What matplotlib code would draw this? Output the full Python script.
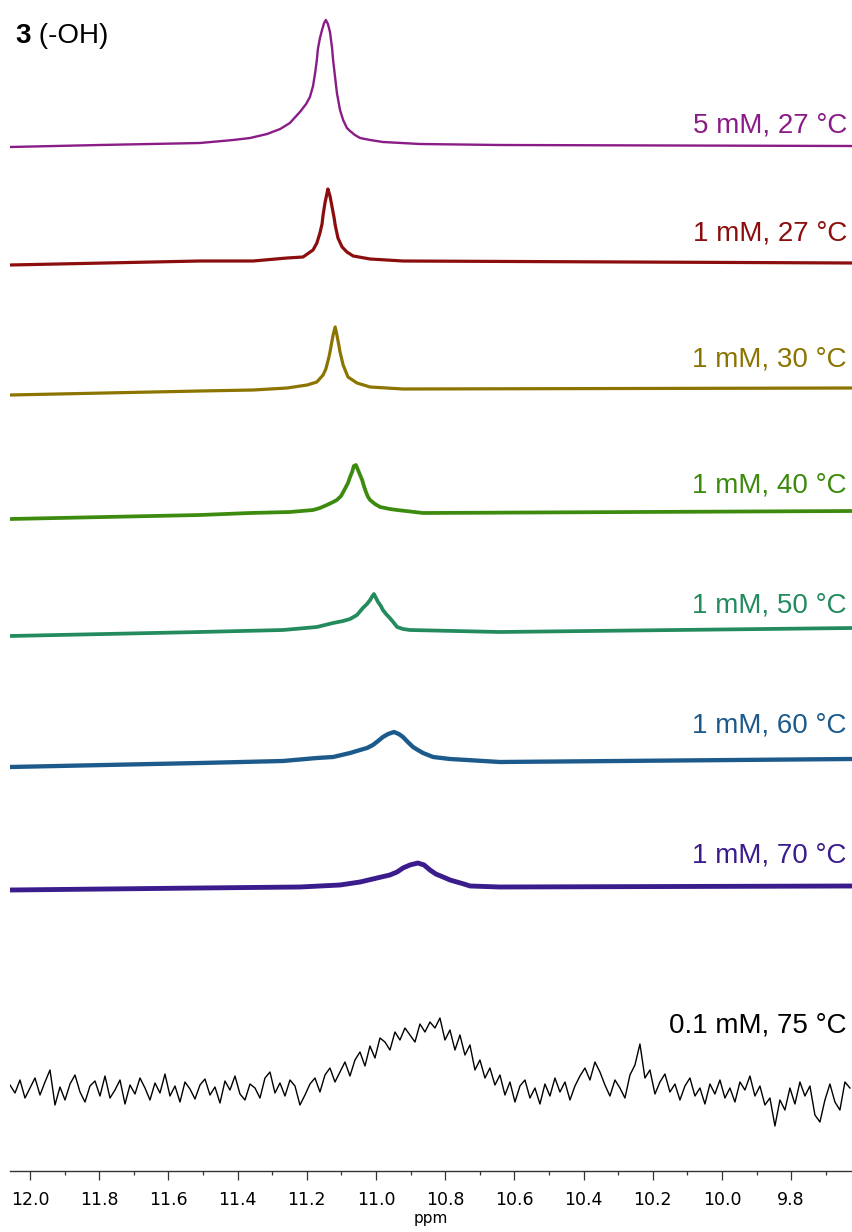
import numpy as np
import matplotlib.pyplot as plt
from matplotlib.transforms import blended_transform_factory

# stacked 1H NMR traces of the -OH signal (intensity in arbitrary units above each trace baseline)
labels = ['5 mM, 27 °C', '1 mM, 27 °C', '1 mM, 30 °C', '1 mM, 40 °C',
          '1 mM, 50 °C', '1 mM, 60 °C', '1 mM, 70 °C', '0.1 mM, 75 °C']
colors = ['#8A1C87', '#8B0D0D', '#8C7400', '#3D8B0E', '#238B5E', '#1C5A8C', '#3B1C8C', '#000000']
offsets = [1025, 909, 780, 657, 539, 408, 283, 81]

ppm_5mM_27 = [12.058, 11.798, 11.653, 11.509, 11.413, 11.364, 11.315, 11.277, 11.249, 11.220,
              11.202, 11.191, 11.182, 11.176, 11.171, 11.168, 11.162, 11.156, 11.150, 11.145,
              11.139, 11.133, 11.127, 11.124, 11.118, 11.113, 11.104, 11.095, 11.084, 11.075,
              11.061, 11.046, 11.017, 10.980, 10.873, 10.642, 9.624]
int_5mM_27 = [-1, 1, 2, 3, 6, 8, 12, 17, 23, 34, 42, 49, 60, 73, 86, 97, 108, 116, 123, 126,
              122, 114, 98, 86, 68, 53, 36, 26, 18, 15, 11, 8, 6, 4, 2, 1, 0]

ppm_1mM_27 = [12.058, 11.509, 11.355, 11.257, 11.211, 11.182, 11.171, 11.162, 11.156, 11.153,
              11.147, 11.142, 11.139, 11.133, 11.127, 11.121, 11.118, 11.110, 11.098, 11.084,
              11.066, 11.017, 10.922, 9.624]
int_1mM_27 = [-3, 1, 1, 4, 5, 12, 19, 29, 38, 47, 60, 68, 73, 66, 55, 44, 37, 24, 15, 10,
              6, 3, 1, -1]

ppm_1mM_30 = [12.058, 11.509, 11.355, 11.257, 11.199, 11.171, 11.153, 11.145, 11.142, 11.136,
              11.133, 11.124, 11.118, 11.113, 11.107, 11.104, 11.095, 11.081, 11.055, 11.017,
              10.922, 9.624]
int_1mM_30 = [-4, 0, 1, 3, 6, 9, 16, 22, 26, 34, 39, 56, 64, 56, 45, 39, 26, 14, 8, 4, 2, 3]

ppm_1mM_40 = [12.058, 11.509, 11.364, 11.249, 11.182, 11.162, 11.142, 11.124, 11.113, 11.101,
              11.090, 11.081, 11.075, 11.069, 11.064, 11.058, 11.052, 11.046, 11.040, 11.035,
              11.029, 11.023, 11.017, 11.003, 10.988, 10.960, 10.939, 10.864, 9.624]
int_1mM_40 = [-5, -1, 1, 2, 4, 6, 9, 12, 14, 18, 25, 31, 37, 42, 48, 49, 44, 39, 34, 28,
              22, 17, 14, 10, 7, 5, 4, 1, 3]

ppm_1mM_50 = [12.058, 11.509, 11.269, 11.171, 11.124, 11.095, 11.075, 11.055, 11.038, 11.026,
              11.017, 11.012, 11.006, 11.000, 10.994, 10.986, 10.980, 10.971, 10.960, 10.948,
              10.939, 10.922, 10.902, 10.642, 9.624]
int_1mM_50 = [-4, 0, 2, 5, 9, 11, 13, 17, 24, 28, 32, 35, 38, 34, 30, 26, 22, 18, 14, 9,
              5, 3, 2, 0, 4]

ppm_1mM_60 = [12.058, 11.509, 11.269, 11.171, 11.124, 11.075, 11.046, 11.026, 11.009, 10.994,
              10.980, 10.965, 10.948, 10.934, 10.922, 10.908, 10.893, 10.879, 10.864, 10.835,
              10.786, 10.737, 10.642, 9.624]
int_1mM_60 = [-4, 0, 2, 5, 6, 10, 13, 15, 18, 22, 26, 29, 31, 29, 26, 21, 16, 13, 10, 6,
              4, 3, 1, 4]

ppm_1mM_70 = [12.058, 11.509, 11.220, 11.104, 11.046, 10.997, 10.960, 10.939, 10.922, 10.902,
              10.879, 10.861, 10.844, 10.827, 10.806, 10.786, 10.766, 10.746, 10.728, 10.642,
              9.624]
int_1mM_70 = [-2, 0, 1, 3, 6, 10, 13, 16, 20, 23, 25, 23, 18, 14, 11, 8, 6, 4, 2, 1, 2]

# 0.1 mM, 75 °C: noisy trace read every ~0.0145 ppm
int_01mM_75 = [5, -3, 10, -8, 2, 12, -5, 8, 20, -15, 3, -10, 6, 15, -2, -12, 4, 9, -6,
               14, -8, 0, 10, -14, 5, -4, 12, 2, -10, 7, -3, 16, -6, 4, -12, 8, 1, -9, 5,
               11, -5, 3, -13, 9, 0, 14, -4, -10, 6, 2, -8, 12, 18, -3, 7, -6, 10, 4, -15,
               -5, 6, 12, -2, 15, 22, 8, 18, 28, 14, 30, 38, 24, 44, 32, 52, 48, 40, 58, 50,
               62, 55, 48, 66, 58, 68, 62, 72, 50, 60, 40, 55, 35, 45, 20, 30, 12, 22, 5, 15,
               -5, 8, -12, 4, 10, -8, 2, -14, 6, -6, 12, -2, 8, -10, 4, 14, 22, 10, 28, 18,
               5, -6, 10, 2, -8, 15, 25, 46, 12, 20, -4, 8, 16, -2, 6, -10, 4, 12, -6, 2,
               -14, 6, -4, 10, -8, 2, -12, 8, 0, 14, -6, 4, -15, -8, -36, -10, -20, 2, -14, 8,
               -6, 4, -25, -32, -10, 6, -12, -20, 8, 2]
ppm_01mM_75 = np.linspace(12.058, 9.630, len(int_01mM_75))

traces = [(ppm_5mM_27, int_5mM_27), (ppm_1mM_27, int_1mM_27), (ppm_1mM_30, int_1mM_30),
          (ppm_1mM_40, int_1mM_40), (ppm_1mM_50, int_1mM_50), (ppm_1mM_60, int_1mM_60),
          (ppm_1mM_70, int_1mM_70), (ppm_01mM_75, int_01mM_75)]
widths = [1.7, 2.3, 2.3, 2.7, 2.7, 3.1, 3.5, 1.0]
label_y = [1039, 931, 804, 678, 559, 438, 309, 139]

fig = plt.figure(figsize=(8.52, 12.32), dpi=100)
ax = fig.add_axes([10 / 852, 61 / 1232, 842 / 852, 1171 / 1232])

for (x, y), off, c, lw in zip(traces, offsets, colors, widths):
    ax.plot(x, np.array(y) + off, color=c, lw=lw, solid_joinstyle='round')

trans = blended_transform_factory(ax.transAxes, ax.transData)
for lab, c, ly in zip(labels, colors, label_y):
    ax.text(0.994, ly, lab, color=c, fontsize=20, ha='right', va='baseline',
            family='Liberation Sans', transform=trans)

t = ax.text(0.006, 1128, '3', fontsize=20, fontweight='bold', family='Liberation Sans',
            va='baseline', transform=trans)
ax.annotate(' (-OH)', xy=(1, 0), xycoords=t, fontsize=20, family='Liberation Sans',
            va='bottom')

ax.set_xlim(12.058, 9.624)
ax.set_ylim(0, 1171)
ax.set_xticks(np.arange(9.8, 12.01, 0.2))
ax.set_xticks(np.arange(9.7, 12.06, 0.1), minor=True)
ax.set_xticklabels([f'{v:.1f}' for v in np.arange(9.8, 12.01, 0.2)])
ax.tick_params(axis='x', which='major', length=6.5, width=0.9, pad=8, labelsize=12.5, color='#333333')
ax.tick_params(axis='x', which='minor', length=3, width=0.9, color='#333333')
ax.set_yticks([])
for s in ['left', 'right', 'top']:
    ax.spines[s].set_visible(False)
ax.spines['bottom'].set_color('#333333')
ax.spines['bottom'].set_linewidth(1.0)
ax.set_xlabel('ppm', fontsize=11, labelpad=1)
ax.patch.set_alpha(0)

fig.savefig('out.png', dpi=100)
